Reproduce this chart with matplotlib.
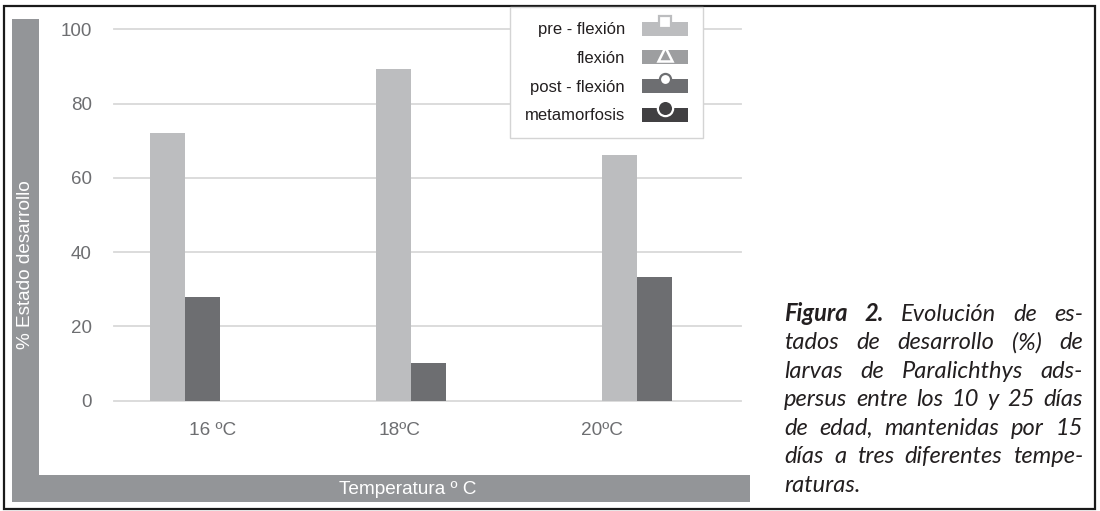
import matplotlib
matplotlib.use("Agg")
import matplotlib.pyplot as plt
from matplotlib.patches import Rectangle, Patch
from matplotlib.lines import Line2D
from matplotlib.legend_handler import HandlerBase
from matplotlib.transforms import ScaledTranslation

# ---- data -------------------------------------------------------------
categories = ["16 ºC", "18ºC", "20ºC"]
pre_flexion = [72, 89.3, 66.2]
post_flexion = [28, 10.2, 33.3]
series_names = ["pre - flexión", "flexión", "post - flexión", "metamorfosis"]
y_ticks = [0, 20, 40, 60, 80, 100]
y_label = "% Estado desarrollo"
x_label = "Temperatura º C"
caption_lines = [
    [("Figura", "bold"), ("2.", "bold"), ("Evolución", "normal"), ("de", "normal"), ("es-", "normal")],
    "tados de desarrollo (%) de",
    "larvas de Paralichthys ads-",
    "persus entre los 10 y 25 días",
    "de edad, mantenidas por 15",
    "días a tres diferentes tempe-",
    "raturas.",
]

# ---- style ------------------------------------------------------------
W, H = 1100, 511
C_PRE = "#bcbdbf"
C_FLEX = "#9d9ea0"
C_POST = "#6d6e71"
C_META = "#414042"
C_FRAME = "#939598"
C_TICK = "#6d6e71"
C_TEXT = "#231f20"
plt.rcParams["font.family"] = ["Liberation Sans", "DejaVu Sans"]


def fx(x):
    return x / W


def fy(y):
    return 1 - y / H


fig = plt.figure(figsize=(W / 100, H / 100), dpi=100)
fig.patch.set_facecolor("white")

# outer black border
fig.patches.append(Rectangle((fx(3.5), fy(508.5)), fx(1094.5) - fx(3.5), fy(6) - fy(508.5),
                             transform=fig.transFigure, fill=False, edgecolor="#1a1a1a",
                             linewidth=1.6, zorder=0))
# grey L-shaped frame holding the axis titles
fig.patches.append(Rectangle((fx(12), fy(502)), fx(39) - fx(12), fy(19) - fy(502),
                             transform=fig.transFigure, facecolor=C_FRAME, edgecolor="none", zorder=0))
fig.patches.append(Rectangle((fx(12), fy(502)), fx(750) - fx(12), fy(475) - fy(502),
                             transform=fig.transFigure, facecolor=C_FRAME, edgecolor="none", zorder=0))

fig.text(fx(25.5), fy(265), y_label, rotation=90, color="white", fontsize=13.7,
         ha="center", va="center")
fig.text(fx(408), fy(489), x_label, color="white", fontsize=13.7, ha="center", va="center")

# ---- plot area --------------------------------------------------------
ax = fig.add_axes([fx(114), fy(400.7), fx(741) - fx(114), fy(19) - fy(400.7)])
ax.patch.set_alpha(0)
for s in ax.spines.values():
    s.set_visible(False)

x = list(range(len(categories)))
bw = 0.155
ax.bar([i - bw / 2 for i in x], pre_flexion, width=bw, color=C_PRE, zorder=2)
ax.bar([i + bw / 2 for i in x], post_flexion, width=bw, color=C_POST, zorder=2)

ax.set_xlim(-0.314, 2.46)
ax.set_ylim(0, 102.8)
ax.set_yticks(y_ticks)
ax.set_axisbelow(True)
ax.grid(axis="y", color="#d9d9d9", linewidth=1.3)
for gl in ax.get_ygridlines():
    gl.set_clip_on(False)
ax.tick_params(axis="y", length=0, pad=16, labelsize=13.5, labelcolor=C_TICK)

ax.set_xticks(x)
ax.set_xticklabels(categories)
ax.tick_params(axis="x", length=0, pad=15, labelsize=13.7, labelcolor=C_TICK)
label_shift_px = [28, -11, -35]
for lab, dx in zip(ax.get_xticklabels(), label_shift_px):
    lab.set_transform(lab.get_transform() + ScaledTranslation(dx / 100, 0, fig.dpi_scale_trans))


# ---- legend: coloured band with a marker sitting on its top edge ------
class BandMarkerHandler(HandlerBase):
    def __init__(self, marker, ms, mfc, mec, mew, yfrac):
        super().__init__()
        self.marker, self.ms, self.mfc, self.mec, self.mew, self.yfrac = marker, ms, mfc, mec, mew, yfrac

    def create_artists(self, legend, orig_handle, xdescent, ydescent, width, height, fontsize, trans):
        band = Rectangle((-xdescent, -ydescent), width, height,
                         facecolor=orig_handle.get_facecolor(), edgecolor="none", transform=trans)
        mk = Line2D([-xdescent + width / 2], [-ydescent + height * self.yfrac],
                    marker=self.marker, markersize=self.ms, markerfacecolor=self.mfc,
                    markeredgecolor=self.mec, markeredgewidth=self.mew, linestyle="none",
                    transform=trans)
        return [band, mk]


handles = [Patch(facecolor=c) for c in (C_PRE, C_FLEX, C_POST, C_META)]
handler_map = {
    handles[0]: BandMarkerHandler("s", 8.0, "white", C_PRE, 1.6, 1.0),
    handles[1]: BandMarkerHandler("^", 9.5, C_FLEX, "white", 1.8, 0.75),
    handles[2]: BandMarkerHandler("o", 8.0, "white", C_POST, 1.6, 1.0),
    handles[3]: BandMarkerHandler("o", 11.0, C_META, "white", 1.6, 0.95),
}
leg = fig.legend(handles, series_names, handler_map=handler_map, markerfirst=False,
                 loc="upper right", bbox_to_anchor=(fx(703), fy(7)), bbox_transform=fig.transFigure,
                 borderaxespad=0, fontsize=12, frameon=True, fancybox=False, framealpha=1,
                 edgecolor="#d4d4d4", handlelength=2.8, handleheight=0.9, handletextpad=1.0,
                 labelspacing=0.78, borderpad=0.88, labelcolor=C_TEXT)
leg.get_frame().set_linewidth(1.0)

# ---- caption, justified between two margins ---------------------------
cap_left, cap_right = 784, 1083
base0, pitch = 321, 28.45
cap_family = ["Lato", "DejaVu Sans"]
cap_size = 17.0
renderer = fig.canvas.get_renderer()
for li, line in enumerate(caption_lines):
    words = line if isinstance(line, list) else [(w, "normal") for w in line.split()]
    texts = [fig.text(0, fy(base0 + li * pitch), w, family=cap_family, style="italic",
                      weight=wt, fontsize=cap_size, color=C_TEXT, va="baseline", ha="left")
             for w, wt in words]
    widths = [t.get_window_extent(renderer).width for t in texts]
    last = li == len(caption_lines) - 1
    if last or len(texts) == 1:
        space = texts[0].get_fontsize() * 0.3
    else:
        space = (cap_right - cap_left - sum(widths)) / (len(texts) - 1)
    xpos = cap_left
    for t, wdt in zip(texts, widths):
        t.set_x(fx(xpos))
        xpos += wdt + space

fig.savefig("out.png", dpi=100, facecolor="white")
